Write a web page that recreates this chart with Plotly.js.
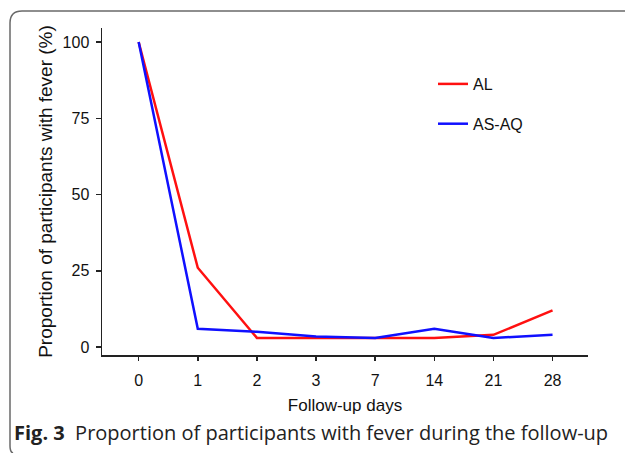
<!DOCTYPE html>
<html>
<head>
<meta charset="utf-8">
<script src="https://cdn.plot.ly/plotly-3.0.1.min.js"></script>
<style>html,body{margin:0;padding:0;background:#fff;}#chart{width:625px;height:453px;}</style>
</head>
<body>
<div id="chart"></div>
<script>
const days = ["0", "1", "2", "3", "7", "14", "21", "28"];
const alValues = [100, 26, 3, 3, 3, 3, 4, 12];
const asaqValues = [100, 6, 5, 3.5, 3, 6, 3, 4];
const yTicks = [0, 25, 50, 75, 100];

const W = 625, H = 453;
const M = {l: 102, r: 37, t: 28, b: 98};
const pw = W - M.l - M.r, ph = H - M.t - M.b;
const px = x => (x - M.l) / pw;
const py = y => 1 - (y - M.t) / ph;

const framePath = 'M ' + px(630) + ',' + py(11) +
  ' L ' + px(22) + ',' + py(11) +
  ' Q ' + px(10) + ',' + py(11) + ' ' + px(10) + ',' + py(23) +
  ' L ' + px(10) + ',' + py(446) +
  ' Q ' + px(10) + ',' + py(452) + ' ' + px(13) + ',' + py(453);

const traces = [
  {x: days, y: alValues, name: 'AL', type: 'scatter', mode: 'lines', legendgroup: 'a',
   line: {color: '#ff1010', width: 2.5}},
  {x: days, y: asaqValues, name: 'AS-AQ', type: 'scatter', mode: 'lines', legendgroup: 'b',
   line: {color: '#1010ff', width: 2.5}}
];

const layout = {
  width: W, height: H,
  margin: M,
  paper_bgcolor: '#ffffff', plot_bgcolor: '#ffffff',
  font: {family: 'Liberation Sans, Arial, sans-serif', color: '#111'},
  showlegend: true,
  legend: {x: px(433), y: py(67), xanchor: 'left', yanchor: 'top',
    traceorder: 'grouped', tracegroupgap: 16,
    font: {size: 16, color: '#111'}, bgcolor: 'rgba(0,0,0,0)'},
  xaxis: {type: 'category', range: [-0.62, 7.6], showgrid: false, zeroline: false,
    showline: true, linecolor: '#222', linewidth: 1.5,
    ticks: 'outside', ticklen: 4, tickcolor: '#222', tickwidth: 1.5,
    ticklabelstandoff: 6,
    tickfont: {size: 16, color: '#111'},
    title: {text: 'Follow-up days', font: {size: 17, color: '#111'}, standoff: 11}},
  yaxis: {range: [-2.6, 104.6], showgrid: false, zeroline: false,
    showline: true, linecolor: '#222', linewidth: 1.5,
    tickvals: yTicks, ticks: 'outside', ticklen: 5, tickcolor: '#222', tickwidth: 1.5,
    ticklabelstandoff: 3,
    tickfont: {size: 16, color: '#111'},
    title: {text: 'Proportion of participants with fever (%)', font: {size: 19, color: '#111'}, standoff: 5}},
  shapes: [{type: 'path', xref: 'paper', yref: 'paper', path: framePath,
    line: {color: '#6a6a6a', width: 1.5}}],
  annotations: [{xref: 'paper', yref: 'paper', x: px(12), y: py(433),
    xanchor: 'left', yanchor: 'middle', showarrow: false,
    text: '<b>Fig. 3</b>  Proportion of participants with fever during the follow-up',
    font: {family: 'Open Sans, Noto Sans, sans-serif', size: 20, color: '#222'}}]
};

Plotly.newPlot('chart', traces, layout, {displayModeBar: false, staticPlot: true});
</script>
</body>
</html>
